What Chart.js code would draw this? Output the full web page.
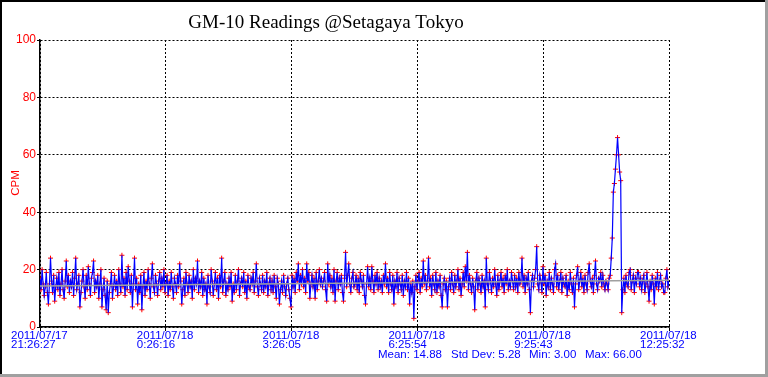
<!DOCTYPE html>
<html>
<head>
<meta charset="utf-8">
<script src="https://cdn.jsdelivr.net/npm/chart.js@4"></script>
<style>
  html, body { margin: 0; padding: 0; background: #fff; }
  canvas { display: block; }
</style>
</head>
<body>
<canvas id="gm10" width="768" height="377"></canvas>
<script>
// ===== GM-10 READINGS =====

const TITLE = 'GM-10 Readings @Setagaya Tokyo';

// time axis: seconds after 2011/07/17 21:26:27
const tickOffsets = [0, 10789, 21578, 32367, 43156, 53945];
const tickDates = ['2011/07/17', '2011/07/18', '2011/07/18', '2011/07/18', '2011/07/18', '2011/07/18'];
const tickTimes = ['21:26:27', '0:26:16', '3:26:05', '6:25:54', '9:25:43', '12:25:32'];

const yTicks = [0, 20, 40, 60, 80, 100];

// counts per minute left to right
const cpm = [
  17,13,20,15,11,14,19,12,8,15,24,16,12,18,9,14,17,13,19,11,15,20,13,10,16,23,14,18,12,16,
  14,19,11,17,24,13,15,18,7,12,16,20,14,10,18,13,21,15,11,17,19,23,12,16,14,18,10,15,20,7,
  13,17,11,6,16,5,12,15,19,10,14,18,13,16,11,20,15,12,25,14,17,11,19,13,21,16,12,18,7,15,
  24,13,17,8,15,12,18,6,14,19,11,16,13,20,15,10,17,22,14,12,18,15,11,16,19,13,17,14,20,12,
  15,18,11,16,13,19,14,10,17,15,12,18,14,22,16,8,13,17,11,19,15,12,18,14,16,10,20,13,17,15,
  23,12,16,14,19,11,17,13,15,8,18,14,12,20,16,11,15,19,13,17,10,18,14,24,12,16,19,11,15,13,
  17,14,19,9,15,12,18,13,16,20,11,15,17,14,19,12,16,10,18,14,13,17,15,19,12,16,22,14,11,17,
  15,13,18,12,16,14,19,11,15,17,13,16,12,18,14,10,17,15,8,13,16,12,18,14,11,15,17,13,10,7,
  18,14,17,12,19,16,22,13,18,15,20,14,17,12,22,16,19,10,15,18,14,17,10,19,13,16,20,15,17,14,
  16,19,13,9,22,15,18,14,17,12,20,9,16,19,13,17,15,18,12,9,17,26,14,18,22,15,12,17,19,14,
  15,18,13,17,12,19,16,14,18,11,8,15,21,14,17,13,21,16,12,18,15,19,13,17,14,16,12,18,15,22,
  14,17,12,19,15,13,18,8,16,14,19,12,17,15,13,18,11,16,14,19,13,17,8,15,12,16,3,14,18,13,
  16,19,12,17,14,23,15,18,13,16,24,14,17,11,18,15,13,19,12,16,14,18,11,7,15,17,13,16,7,14,
  17,13,19,15,12,18,14,16,20,13,17,11,15,19,14,21,16,26,13,18,15,12,17,14,6,16,19,13,17,15,
  12,18,14,16,7,24,15,13,19,16,12,17,14,20,15,11,18,13,16,19,14,17,12,18,15,20,13,16,14,19,
  16,13,18,14,17,12,19,15,16,24,14,18,12,17,15,19,13,5,16,18,14,17,20,28,15,13,18,16,12,21,
  15,18,11,16,14,19,13,17,15,12,20,22,14,18,13,16,19,12,17,15,14,18,11,16,13,19,15,12,17,7,
  15,18,21,13,16,19,14,17,12,18,15,13,19,22,16,14,17,12,18,23,15,13,17,16,19,14,18,15,13,16,
  15,13,17,18,24,31,47,50,55,60,66,60,54,51,5,13,17,12,18,15,14,19,20,13,16,18,12,17,15,19,
  19,14,17,13,16,18,12,15,19,14,9,16,13,18,15,8,17,14,19,13,16,18,14,15,12,12,17,20,14,16
];

// grey trend line, start and end value
const trendEnds = [14.3, 16.3];

const statsLabels = ['Mean: 14.88', 'Std Dev: 5.28', 'Min: 3.00', 'Max: 66.00'];
const statsX = [378, 451, 529, 585];

const span = tickOffsets[tickOffsets.length - 1];
const step = span / (cpm.length - 1);
const cpmPoints = cpm.map((v, i) => ({ x: i * step, y: v }));
const trendPoints = [{ x: 0, y: trendEnds[0] }, { x: span, y: trendEnds[1] }];

const LABEL_FONT = '11.5px "Liberation Sans", Arial, sans-serif';

// frame, title and the text under the plot
const textPlugin = {
  id: 'gmText',
  beforeDraw(chart) {
    const ctx = chart.ctx;
    ctx.save();
    ctx.fillStyle = '#fff';
    ctx.fillRect(0, 0, chart.width, chart.height);
    ctx.fillStyle = '#000';
    ctx.fillRect(0, 0, chart.width, 2);
    ctx.fillRect(0, 0, 2, chart.height);
    ctx.fillStyle = '#a0a0a0';
    ctx.fillRect(chart.width - 3, 0, 3, chart.height);
    ctx.fillRect(0, chart.height - 3, chart.width, 3);
    ctx.restore();
  },
  afterDraw(chart) {
    const ctx = chart.ctx;
    const xs = chart.scales.x;
    ctx.save();
    ctx.fillStyle = '#000';
    ctx.font = '19px "Liberation Serif", "Times New Roman", serif';
    ctx.textAlign = 'center';
    ctx.textBaseline = 'alphabetic';
    ctx.fillText(TITLE, 326, 28);

    ctx.fillStyle = '#ff0000';
    ctx.font = LABEL_FONT;
    ctx.translate(16, 183);
    ctx.rotate(-Math.PI / 2);
    ctx.textBaseline = 'middle';
    ctx.fillText('CPM', 0, 0);
    ctx.restore();

    ctx.save();
    ctx.fillStyle = '#0000ff';
    ctx.font = LABEL_FONT;
    ctx.textAlign = 'left';
    ctx.textBaseline = 'alphabetic';
    tickOffsets.forEach((t, i) => {
      const px = xs.getPixelForValue(t) - 29;
      ctx.fillText(tickDates[i], px, 339);
      ctx.fillText(tickTimes[i], px, 348);
    });
    statsLabels.forEach((s, i) => ctx.fillText(s, statsX[i], 357.5));
    ctx.restore();
  }
};

new Chart(document.getElementById('gm10'), {
  type: 'line',
  data: {
    datasets: [
      {
        label: 'Trend',
        data: trendPoints,
        borderColor: '#a0a0a0',
        borderWidth: 1.5,
        pointRadius: 0
      },
      {
        label: 'CPM',
        data: cpmPoints,
        borderColor: '#0000ff',
        borderWidth: 1.2,
        tension: 0,
        pointRadius: 0
      },
      {
        label: 'CPM points',
        data: cpmPoints,
        showLine: false,
        pointStyle: 'cross',
        pointRadius: 2.5,
        pointBorderColor: '#ff0000',
        pointBorderWidth: 1,
        pointBackgroundColor: '#ff0000'
      }
    ]
  },
  options: {
    responsive: false,
    animation: false,
    devicePixelRatio: 1,
    layout: { padding: { left: 0, top: 40, right: 99, bottom: 50 } },
    plugins: {
      legend: { display: false },
      title: { display: false },
      tooltip: { enabled: false }
    },
    scales: {
      x: {
        type: 'linear',
        min: 0,
        max: span,
        afterBuildTicks: s => { s.ticks = tickOffsets.map(v => ({ value: v })); },
        afterFit: s => { s.height = 0; },
        ticks: { display: false },
        grid: { color: '#000', lineWidth: 1, tickLength: 4, tickColor: '#000' },
        border: { display: true, color: '#000', width: 1.5, dash: [2, 2] }
      },
      y: {
        min: 0,
        max: 100,
        afterBuildTicks: s => { s.ticks = yTicks.map(v => ({ value: v })); },
        afterFit: s => { s.width = 40; },
        ticks: {
          color: '#ff0000',
          font: { family: '"Liberation Sans", Arial, sans-serif', size: 12 },
          padding: 1
        },
        grid: { color: '#000', lineWidth: 1, tickLength: 3, tickColor: '#000' },
        border: { display: true, color: '#000', width: 1.5, dash: [2, 2] }
      }
    }
  },
  plugins: [textPlugin]
});
</script>
</body>
</html>
